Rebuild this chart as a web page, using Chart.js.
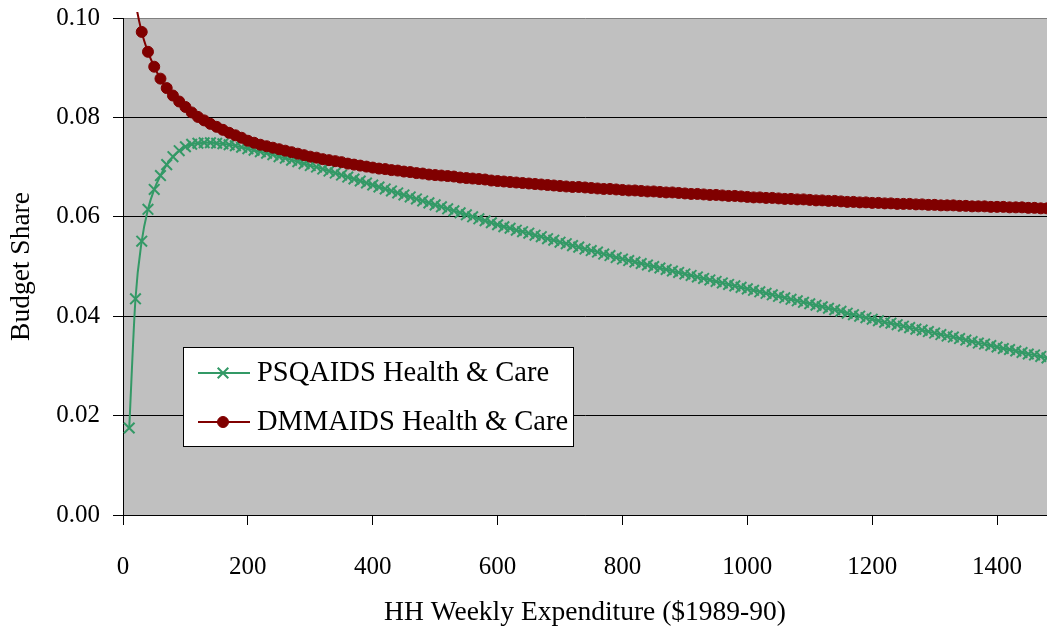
<!DOCTYPE html>
<html><head><meta charset="utf-8">
<script src="https://cdn.jsdelivr.net/npm/chart.js@4"></script>
<style>html,body{margin:0;padding:0;background:#fff;}canvas{display:block;}</style>
</head><body>
<canvas id="c" width="1047" height="632"></canvas>
<script>
const expenditure = [
  10,20,30,40,50,60,70,80,90,100,
  110,120,130,140,150,160,170,180,190,200,
  210,220,230,240,250,260,270,280,290,300,
  310,320,330,340,350,360,370,380,390,400,
  410,420,430,440,450,460,470,480,490,500,
  510,520,530,540,550,560,570,580,590,600,
  610,620,630,640,650,660,670,680,690,700,
  710,720,730,740,750,760,770,780,790,800,
  810,820,830,840,850,860,870,880,890,900,
  910,920,930,940,950,960,970,980,990,1000,
  1010,1020,1030,1040,1050,1060,1070,1080,1090,1100,
  1110,1120,1130,1140,1150,1160,1170,1180,1190,1200,
  1210,1220,1230,1240,1250,1260,1270,1280,1290,1300,
  1310,1320,1330,1340,1350,1360,1370,1380,1390,1400,
  1410,1420,1430,1440,1450,1460,1470,1480
];
const psqaids = [
  .0175,.0435,.0551,.0615,.0655,.0683,.0705,.0721,.0733,.0741,
  .0746,.0748,.0749,.0749,.0748,.0747,.0745,.0743,.0740,.0737,
  .0734,.0731,.0728,.0725,.0721,.0718,.0714,.0711,.0707,.0703,
  .0700,.0696,.0692,.0688,.0684,.0680,.0676,.0672,.0668,.0664,
  .0660,.0656,.0652,.0648,.0644,.0640,.0636,.0632,.0628,.0624,
  .0620,.0616,.0612,.0608,.0604,.0600,.0596,.0592,.0588,.0584,
  .0580,.0577,.0573,.0570,.0567,.0563,.0560,.0556,.0553,.0549,
  .0546,.0542,.0539,.0535,.0532,.0529,.0525,.0522,.0518,.0515,
  .0512,.0509,.0506,.0503,.0500,.0497,.0494,.0491,.0488,.0485,
  .0482,.0479,.0476,.0473,.0470,.0467,.0464,.0461,.0458,.0455,
  .0452,.0449,.0446,.0443,.0440,.0437,.0434,.0431,.0428,.0425,
  .0422,.0419,.0416,.0413,.0410,.0406,.0403,.0400,.0397,.0394,
  .0391,.0388,.0386,.0383,.0380,.0377,.0374,.0372,.0369,.0366,
  .0363,.0360,.0358,.0355,.0352,.0349,.0346,.0344,.0341,.0338,
  .0335,.0333,.0330,.0327,.0324,.0322,.0319,.0316
];
const dmmaids = [
  .1160,.1035,.0972,.0932,.0902,.0878,.0859,.0844,.0832,.0821,
  .0810,.0801,.0794,.0787,.0781,.0775,.0769,.0764,.0759,.0753,
  .0749,.0745,.0742,.0739,.0736,.0733,.0730,.0727,.0724,.0721,
  .0719,.0716,.0714,.0712,.0710,.0707,.0705,.0703,.0701,.0699,
  .0697,.0696,.0694,.0693,.0691,.0690,.0688,.0687,.0685,.0684,
  .0683,.0682,.0681,.0679,.0678,.0677,.0676,.0675,.0673,.0672,
  .0671,.0670,.0669,.0668,.0667,.0666,.0665,.0664,.0663,.0662,
  .0661,.0660,.0660,.0659,.0658,.0657,.0656,.0656,.0655,.0654,
  .0653,.0653,.0652,.0651,.0651,.0650,.0649,.0649,.0648,.0647,
  .0646,.0646,.0645,.0644,.0644,.0643,.0642,.0642,.0641,.0640,
  .0639,.0639,.0638,.0638,.0637,.0636,.0636,.0635,.0635,.0634,
  .0633,.0633,.0632,.0632,.0631,.0630,.0630,.0629,.0629,.0628,
  .0628,.0627,.0627,.0626,.0626,.0626,.0625,.0625,.0624,.0624,
  .0623,.0623,.0623,.0622,.0622,.0621,.0621,.0621,.0620,.0620,
  .0620,.0619,.0619,.0619,.0618,.0618,.0617,.0617
];
const seriesNames = ["PSQAIDS Health & Care", "DMMAIDS Health & Care"];
const xTickValues = [0, 200, 400, 600, 800, 1000, 1200, 1400];
const yTickValues = [0, 0.02, 0.04, 0.06, 0.08, 0.10];
const yTickLabels = ["0.00", "0.02", "0.04", "0.06", "0.08", "0.10"];
const xTitle = "HH Weekly Expenditure ($1989-90)";
const yTitle = "Budget Share";

const FONT = "'Liberation Serif', 'Times New Roman', serif";
const toPts = (ys) => expenditure.map((x, i) => ({x: x, y: ys[i]}));

const plotBg = {
  id: 'plotBg',
  beforeDraw(chart) {
    const {ctx, chartArea: a} = chart;
    ctx.save();
    ctx.fillStyle = '#C0C0C0';
    ctx.fillRect(a.left, a.top, a.right - a.left, a.bottom - a.top);
    ctx.restore();
  }
};

const boxLegend = {
  id: 'boxLegend',
  afterDraw(chart) {
    const ctx = chart.ctx;
    const bx = 183.5, by = 347.5, bw = 390, bh = 99;
    ctx.save();
    ctx.fillStyle = '#fff';
    ctx.fillRect(bx, by, bw, bh);
    ctx.strokeStyle = '#000';
    ctx.lineWidth = 1;
    ctx.strokeRect(bx, by, bw, bh);
    const rows = [373, 422];
    chart.data.datasets.forEach((ds, i) => {
      const y = rows[i];
      ctx.strokeStyle = ds.borderColor;
      ctx.lineWidth = ds.borderWidth;
      ctx.beginPath();
      ctx.moveTo(198, y);
      ctx.lineTo(250, y);
      ctx.stroke();
      ctx.fillStyle = ds.pointBackgroundColor;
      ctx.strokeStyle = ds.pointBorderColor;
      ctx.lineWidth = ds.pointBorderWidth;
      Chart.helpers.drawPoint(ctx, {pointStyle: ds.pointStyle, radius: ds.pointRadius, rotation: 0, borderWidth: ds.pointBorderWidth}, 223, y);
      ctx.fillStyle = '#000';
      ctx.font = "28.5px " + FONT;
      ctx.textBaseline = 'middle';
      ctx.textAlign = 'left';
      ctx.fillText(ds.label, 257, y + 1);
    });
    ctx.restore();
  }
};

new Chart(document.getElementById('c'), {
  type: 'line',
  data: {
    datasets: [
      {
        label: seriesNames[0],
        data: toPts(psqaids),
        borderColor: '#339966',
        backgroundColor: '#339966',
        borderWidth: 2,
        pointStyle: 'crossRot',
        pointRadius: 7.5,
        pointBorderWidth: 2,
        pointBackgroundColor: '#339966',
        pointBorderColor: '#339966',
        cubicInterpolationMode: 'monotone',
        clip: {left: 0, right: 0, bottom: 0, top: 6},
        order: 1
      },
      {
        label: seriesNames[1],
        data: toPts(dmmaids),
        borderColor: '#800000',
        backgroundColor: '#800000',
        borderWidth: 2,
        pointStyle: 'circle',
        pointRadius: 5.5,
        pointBorderWidth: 1,
        pointBackgroundColor: '#800000',
        pointBorderColor: '#800000',
        cubicInterpolationMode: 'monotone',
        clip: {left: 0, right: 0, bottom: 0, top: 6},
        order: 0
      }
    ]
  },
  options: {
    responsive: false,
    animation: false,
    devicePixelRatio: 1,
    layout: {autoPadding: false, padding: {top: 18, right: 0, bottom: 0, left: 0}},
    plugins: {legend: {display: false}, tooltip: {enabled: false}},
    scales: {
      x: {
        type: 'linear',
        min: 0,
        max: 1480,
        afterBuildTicks: (s) => { s.ticks = xTickValues.map(v => ({value: v})); },
        afterFit: (s) => { s.height = 117; s.paddingLeft = 0; s.paddingRight = 0; },
        ticks: {
          color: '#000',
          font: {family: FONT, size: 25},
          padding: 27,
          maxRotation: 0,
          autoSkip: false,
          callback: (v) => String(v)
        },
        grid: {display: true, drawOnChartArea: false, drawTicks: true, tickLength: 10, tickColor: '#000', color: '#000'},
        border: {display: true, color: '#000', width: 1},
        title: {display: true, text: xTitle, color: '#000', font: {family: FONT, size: 27.5}, padding: {top: 0, bottom: 3}}
      },
      y: {
        type: 'linear',
        min: 0,
        max: 0.1,
        afterBuildTicks: (s) => { s.ticks = yTickValues.map(v => ({value: v})); },
        afterFit: (s) => { s.width = 123; s.paddingTop = 0; s.paddingBottom = 0; },
        ticks: {
          color: '#000',
          font: {family: FONT, size: 25},
          padding: 13,
          autoSkip: false,
          callback: (v) => { const i = yTickValues.findIndex(t => Math.abs(t - v) < 1e-9); return i >= 0 ? yTickLabels[i] : ''; }
        },
        grid: {
          display: true,
          drawOnChartArea: true,
          drawTicks: true,
          tickLength: 10,
          tickColor: '#000',
          color: (c) => (c.tick && Math.abs(c.tick.value - 0.1) < 1e-9) ? '#808080' : '#000',
          lineWidth: 1
        },
        border: {display: true, color: '#000', width: 1},
        title: {display: true, text: yTitle, color: '#000', font: {family: FONT, size: 27.5}, padding: {top: 5, bottom: 0}}
      }
    }
  },
  plugins: [plotBg, boxLegend]
});
</script>
</body></html>
